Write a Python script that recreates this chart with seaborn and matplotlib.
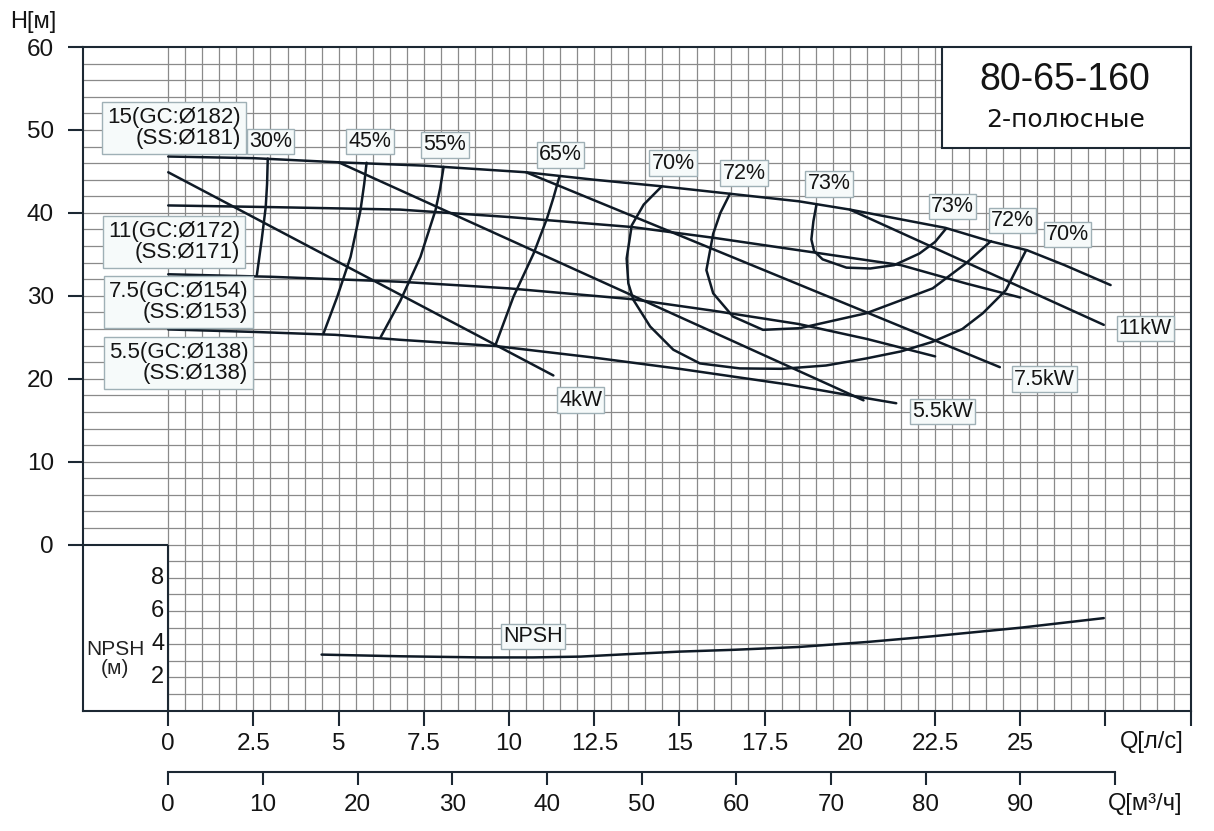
import numpy as np
import matplotlib
matplotlib.use("Agg")
import matplotlib.pyplot as plt
import matplotlib.patches as mpatches
import seaborn as sns

# ---------------- data (Q in l/s, H in m) ----------------
q_d182 = [0, 2.5, 5.0, 7.5, 10.5, 12.5, 14.5, 16.5, 18.5, 20.0, 22.8, 24.1, 25.2, 26.3, 27.65]
h_d182 = [46.8, 46.6, 46.1, 45.7, 44.9, 44.0, 43.2, 42.3, 41.4, 40.4, 38.2, 36.6, 35.5, 33.7, 31.3]
q_d172 = [0, 3.0, 6.8, 10.0, 13.6, 16.0, 18.5, 21.5, 23.4, 25.0]
h_d172 = [40.9, 40.7, 40.4, 39.5, 38.3, 37.0, 35.5, 33.7, 31.5, 29.8]
q_d154 = [0, 3.0, 6.8, 10.0, 13.6, 16.0, 18.5, 20.5, 22.5]
h_d154 = [32.6, 32.3, 31.7, 30.9, 29.6, 28.2, 26.6, 24.8, 22.7]
q_d138 = [0, 2.5, 4.9, 6.8, 9.6, 12.4, 15.0, 18.2, 20.0, 21.36]
h_d138 = [25.95, 25.65, 25.3, 24.7, 23.95, 22.6, 21.2, 19.3, 18.0, 17.05]

q_p4 = [0, 11.3]
h_p4 = [44.9, 20.4]
q_p55 = [5.0, 20.4]
h_p55 = [46.1, 17.4]
q_p75 = [10.5, 24.4]
h_p75 = [44.9, 21.4]
q_p11 = [20.0, 27.45]
h_p11 = [40.4, 26.5]

q_e30 = [2.92, 2.90, 2.86, 2.74, 2.60]
h_e30 = [46.55, 43.5, 40.7, 36.7, 32.5]
q_e45 = [5.82, 5.75, 5.64, 5.35, 4.96, 4.55]
h_e45 = [46.05, 43.5, 40.3, 34.7, 29.9, 25.4]
q_e55 = [8.08, 7.98, 7.84, 7.40, 6.81, 6.23]
h_e55 = [45.55, 43.0, 40.3, 34.7, 29.4, 25.0]
q_e65 = [11.48, 11.3, 11.11, 10.72, 10.13, 9.6]
h_e65 = [44.4, 41.8, 39.3, 35.1, 29.9, 24.05]
q_e70 = [14.48, 13.95, 13.6, 13.45, 13.5, 13.65, 14.14, 14.82, 15.6, 16.77, 18.0, 19.3,
         20.48, 21.5, 22.43, 23.3, 23.9, 24.58, 25.17]
h_e70 = [43.2, 41.0, 38.5, 34.5, 31.5, 29.5, 26.3, 23.5, 21.85, 21.25, 21.2, 21.6,
         22.45, 23.3, 24.46, 26.0, 27.9, 30.7, 35.5]
q_e72 = [16.48, 16.2, 15.99, 15.79, 15.99, 16.57, 17.45, 18.53, 20.48, 22.43, 23.4, 24.14]
h_e72 = [42.3, 40.0, 37.5, 33.1, 30.3, 27.5, 25.9, 26.1, 27.9, 30.9, 33.9, 36.6]
q_e73 = [19.02, 18.93, 18.87, 18.95, 19.2, 19.9, 20.6, 21.3, 22.04, 22.5, 22.82]
h_e73 = [41.0, 39.0, 36.8, 35.4, 34.4, 33.4, 33.3, 33.7, 35.1, 36.5, 38.1]

q_npsh = [4.5, 6.8, 9.2, 10.7, 12.1, 13.5, 15.0, 16.6, 18.5, 20.5, 22.4, 25.0, 27.45]
v_npsh = [3.37, 3.27, 3.20, 3.20, 3.25, 3.40, 3.55, 3.66, 3.83, 4.13, 4.47, 4.99, 5.57]

x_ticks = [0, 2.5, 5, 7.5, 10, 12.5, 15, 17.5, 20, 22.5, 25, 27.5, 30]
x_labels = ["0", "2.5", "5", "7.5", "10", "12.5", "15", "17.5", "20", "22.5", "25", "", ""]
m3_ticks = [0, 10, 20, 30, 40, 50, 60, 70, 80, 90, 100]
m3_labels = ["0", "10", "20", "30", "40", "50", "60", "70", "80", "90", ""]
y_ticks = [0, 10, 20, 30, 40, 50, 60]
npsh_ticks = [2, 4, 6, 8]

impeller_labels = ["15(GC:Ø182)\n(SS:Ø181)", "11(GC:Ø172)\n(SS:Ø171)",
                   "7.5(GC:Ø154)\n(SS:Ø153)", "5.5(GC:Ø138)\n(SS:Ø138)"]
impeller_pos = [(0.17, 50.26), (0.17, 36.47), (0.3, 29.3), (0.3, 21.9)]
eff_labels = ["30%", "45%", "55%", "65%", "70%", "72%", "73%", "73%", "72%", "70%"]
eff_pos = [(3.01, 48.6), (5.92, 48.58), (8.12, 48.2), (11.51, 47.0), (14.81, 46.0),
           (16.89, 44.8), (19.39, 43.5), (23.02, 40.75), (24.78, 39.1), (26.39, 37.4)]
pow_labels = ["4kW", "5.5kW", "7.5kW", "11kW"]
pow_pos = [(12.1, 17.43), (22.71, 16.05), (25.7, 19.96), (28.67, 26.05)]

# ---------------- style ----------------
sns.set_theme(style="white")
plt.rcParams["font.family"] = ["Liberation Sans", "DejaVu Sans"]
LINE = "#0f1a26"
SPINE = "#1c2833"
GRID = "#8a8a8a"
TXT = "#141414"

fig = plt.figure(figsize=(12.14, 8.31), dpi=100)
ax = fig.add_axes([0.0684, 0.145, 0.9124, 0.7984])
ax.set_xlim(-2.5, 30)
ax.set_ylim(-20, 60)

# grid
ax.vlines(np.arange(0, 30.01, 0.5), -20, 60, color=GRID, lw=0.9, zorder=0.5)
ax.hlines(np.arange(0, 60, 2), -2.5, 30, color=GRID, lw=0.9, zorder=0.5)
ax.hlines(np.arange(-18, 0, 2), 0, 30, color=GRID, lw=0.9, zorder=0.5)

# NPSH box at lower left
ax.add_patch(mpatches.Rectangle((-2.5, -20), 2.5, 20, fc="white", ec="none", zorder=1))
ax.hlines(0, -2.5, 0, color=SPINE, lw=1.5, zorder=2)
ax.vlines(0, -20, 0, color=SPINE, lw=1.5, zorder=2)

def curve(q, h):
    sns.lineplot(x=q, y=h, ax=ax, color=LINE, lw=1.8, sort=False, estimator=None, zorder=3)

for q, h in [(q_d182, h_d182), (q_d172, h_d172), (q_d154, h_d154), (q_d138, h_d138),
             (q_p4, h_p4), (q_p55, h_p55), (q_p75, h_p75), (q_p11, h_p11),
             (q_e30, h_e30), (q_e45, h_e45), (q_e55, h_e55), (q_e65, h_e65),
             (q_e70, h_e70), (q_e72, h_e72), (q_e73, h_e73)]:
    curve(q, h)

# NPSH curve (NPSH scale: 0..10 mapped onto H -20..0)
curve(q_npsh, [-20 + 2 * v for v in v_npsh])

box_small = dict(boxstyle="square,pad=0.1", fc="#f6fafa", ec="#9fb0b6", lw=1.0)
box_big = dict(boxstyle="square,pad=0.22", fc="#f6fafa", ec="#9fb0b6", lw=1.0)

for txt, (x, y) in zip(impeller_labels, impeller_pos):
    ax.text(x, y, txt, ha="center", va="center", multialignment="right", fontsize=16,
            linespacing=1.0, color=TXT, bbox=box_big, zorder=4)
for txt, (x, y) in zip(eff_labels + pow_labels, eff_pos + pow_pos):
    ax.text(x, y, txt, ha="center", va="center", fontsize=15.5, color=TXT,
            bbox=box_small, zorder=4)
ax.text(10.69, -20 + 2 * 4.47, "NPSH", ha="center", va="center", fontsize=15.5, color=TXT,
        bbox=box_small, zorder=4)

# NPSH tick labels inside the box
for n in npsh_ticks:
    ax.text(-0.12, -20 + 2 * n, str(n), ha="right", va="center", fontsize=17, color=TXT, zorder=4)
ax.text(-1.55, -20 + 2 * 3.1, "NPSH\n(м)", ha="center", va="center", fontsize=15,
        linespacing=1.0, color="#222222", zorder=4)

# title box
ax.add_patch(mpatches.Rectangle((22.69, 47.8), 30 - 22.69, 12.2, fc="white", ec=SPINE,
                                lw=1.5, zorder=4))
ax.text(26.32, 56.0, "80-65-160", ha="center", va="center", fontsize=27, color=TXT, zorder=5)
ax.text(26.32, 51.25, "2-полюсные", ha="center", va="center", fontsize=18, color=TXT,
        family=["DejaVu Sans"], zorder=5)

# axes / ticks
for s in ax.spines.values():
    s.set_color(SPINE)
    s.set_linewidth(1.5)
ax.set_yticks(y_ticks)
ax.set_yticklabels([str(v) for v in y_ticks])
ax.set_xticks(x_ticks)
ax.set_xticklabels(x_labels)
ax.tick_params(axis="y", direction="out", length=11, width=1.5, color=SPINE, pad=10,
               labelsize=17.5, labelcolor=TXT, left=True)
ax.tick_params(axis="x", direction="out", length=10.5, width=1.5, color=SPINE, pad=6,
               labelsize=17.5, labelcolor=TXT, bottom=True)
ax.set_xlabel("")
ax.set_ylabel("")

sec = ax.secondary_xaxis(-0.0927, functions=(lambda q: q * 3.6, lambda m: m / 3.6))
sec.set_xticks(m3_ticks)
sec.set_xticklabels(m3_labels)
sec.spines["bottom"].set_bounds(0, 100)
sec.spines["bottom"].set_color(SPINE)
sec.spines["bottom"].set_linewidth(1.5)
sec.tick_params(axis="x", direction="out", length=9.5, width=1.5, color=SPINE, pad=6.5,
                labelsize=17.5, labelcolor=TXT)

fig.text(1152 / 1214, 1 - 742 / 831, "Q[л/с]", ha="center", va="center", fontsize=17, color=TXT)
fig.text(1145 / 1214, 1 - 804 / 831, "Q[м³/ч]", ha="center", va="center", fontsize=17, color=TXT)
fig.text(33 / 1214, 1 - 22 / 831, "H[м]", ha="center", va="center", fontsize=17, color=TXT)

fig.savefig("out.png", dpi=100, facecolor="white")
